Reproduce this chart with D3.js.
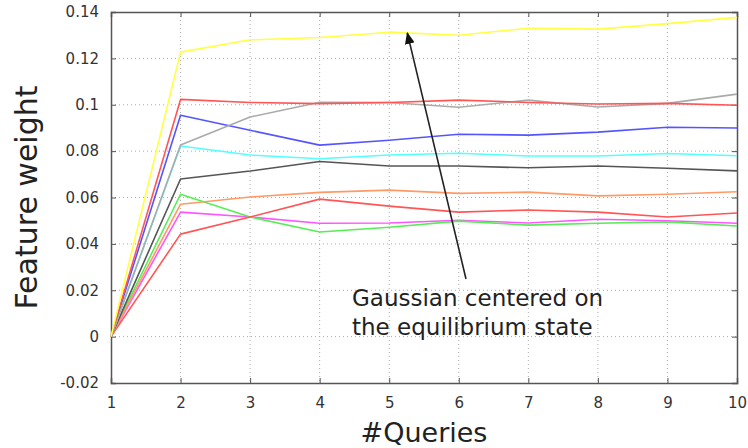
<!DOCTYPE html>
<html>
<head>
<meta charset="utf-8">
<script src="https://cdn.jsdelivr.net/npm/d3@7"></script>
<style>
  html, body { margin: 0; padding: 0; background: #fff; }
  svg { display: block; }
  text { font-family: "DejaVu Sans", sans-serif; }
</style>
</head>
<body>
<svg id="chart" width="748" height="448"></svg>
<script>
// Number of queries on the x axis
const queries = [1, 2, 3, 4, 5, 6, 7, 8, 9, 10];

// Feature weights per feature, one value per query count
const wYellow   = [0, 0.1227, 0.1280, 0.1290, 0.1313, 0.1300, 0.1330, 0.1326, 0.1350, 0.1377];
const wRed      = [0, 0.1023, 0.1010, 0.1005, 0.1010, 0.1020, 0.1010, 0.1003, 0.1006, 0.0998];
const wGray     = [0, 0.0826, 0.0947, 0.1011, 0.1010, 0.0989, 0.1020, 0.0990, 0.1006, 0.1046];
const wBlue     = [0, 0.0955, 0.0890, 0.0826, 0.0847, 0.0873, 0.0869, 0.0882, 0.0903, 0.0900];
const wCyan     = [0, 0.0822, 0.0783, 0.0767, 0.0783, 0.0791, 0.0779, 0.0779, 0.0790, 0.0780];
const wDark     = [0, 0.0680, 0.0714, 0.0755, 0.0736, 0.0736, 0.0728, 0.0736, 0.0726, 0.0715];
const wOrange   = [0, 0.0571, 0.0602, 0.0622, 0.0632, 0.0618, 0.0623, 0.0607, 0.0614, 0.0625];
const wRed2     = [0, 0.0442, 0.0516, 0.0593, 0.0563, 0.0537, 0.0546, 0.0537, 0.0516, 0.0533];
const wGreen    = [0, 0.0614, 0.0516, 0.0451, 0.0472, 0.0498, 0.0481, 0.0489, 0.0495, 0.0477];
const wMagenta  = [0, 0.0537, 0.0516, 0.0489, 0.0490, 0.0502, 0.0490, 0.0506, 0.0500, 0.0489];

const seriesValues = [wMagenta, wGreen, wRed2, wOrange, wDark, wCyan, wBlue, wGray, wRed, wYellow];
const seriesColors = ["#ff55ff", "#55ee55", "#ff5555", "#ff9966", "#555555", "#55ffff", "#5555ff", "#aaaaaa", "#ff5555", "#ffff44"];

const yTicks = [-0.02, 0, 0.02, 0.04, 0.06, 0.08, 0.1, 0.12, 0.14];
const yTickLabels = ["-0.02", "0", "0.02", "0.04", "0.06", "0.08", "0.1", "0.12", "0.14"];
const xTickLabels = ["1", "2", "3", "4", "5", "6", "7", "8", "9", "10"];

const svg = d3.select("#chart");
const plotL = 111, plotR = 737, plotT = 12, plotB = 383;

const x = d3.scaleLinear().domain([1, 10]).range([plotL, plotR]);
const y = d3.scaleLinear().domain([-0.02, 0.14]).range([plotB, plotT]);

// dotted grid
const grid = svg.append("g");
grid.selectAll("line.gx").data(queries.slice(1, -1)).join("line")
  .attr("x1", d => x(d)).attr("x2", d => x(d))
  .attr("y1", plotT).attr("y2", plotB)
  .attr("stroke", "#aaa").attr("stroke-width", 1).attr("stroke-dasharray", "1,3");
grid.selectAll("line.gy").data(yTicks.slice(1, -1)).join("line")
  .attr("x1", plotL).attr("x2", plotR)
  .attr("y1", d => y(d)).attr("y2", d => y(d))
  .attr("stroke", "#aaa").attr("stroke-width", 1).attr("stroke-dasharray", "1,3");

// axes with inward ticks on all four sides
const tickLen = 5;
const axB = svg.append("g").attr("transform", `translate(0,${plotB})`)
  .call(d3.axisBottom(x).tickValues(queries).tickFormat((d, i) => xTickLabels[i]).tickSize(-tickLen).tickPadding(14));
const axT = svg.append("g").attr("transform", `translate(0,${plotT})`)
  .call(d3.axisTop(x).tickValues(queries).tickFormat("").tickSize(-tickLen));
const axL = svg.append("g").attr("transform", `translate(${plotL},0)`)
  .call(d3.axisLeft(y).tickValues(yTicks).tickFormat((d, i) => yTickLabels[i]).tickSize(-tickLen).tickPadding(12));
const axR = svg.append("g").attr("transform", `translate(${plotR},0)`)
  .call(d3.axisRight(y).tickValues(yTicks).tickFormat("").tickSize(-tickLen));
[axB, axT, axL, axR].forEach(a => {
  a.select(".domain").attr("stroke", "#555").attr("stroke-width", 1.5);
  a.selectAll(".tick line").attr("stroke", "#555");
  a.selectAll("text").attr("fill", "#333").style("font-size", "15px").style("font-family", "'DejaVu Sans', sans-serif");
});

// series lines
const line = d3.line().x((d, i) => x(queries[i])).y(d => y(d));
svg.append("g").selectAll("path").data(seriesValues).join("path")
  .attr("d", d => line(d))
  .attr("fill", "none")
  .attr("stroke", (d, i) => seriesColors[i])
  .attr("stroke-width", 1.6)
  .attr("stroke-linejoin", "round");

// annotation with arrow pointing at the top curve
svg.append("defs").append("marker")
  .attr("id", "head").attr("viewBox", "0 0 12 10")
  .attr("refX", 11).attr("refY", 5)
  .attr("markerWidth", 12).attr("markerHeight", 10)
  .attr("markerUnits", "userSpaceOnUse")
  .attr("orient", "auto")
  .append("path").attr("d", "M0,0 L12,5 L0,10 Z").attr("fill", "#111");

svg.append("line")
  .attr("x1", 466).attr("y1", 279)
  .attr("x2", x(5.26)).attr("y2", y(0.1310))
  .attr("stroke", "#222").attr("stroke-width", 1.6)
  .attr("marker-end", "url(#head)");

const note = svg.append("text").attr("fill", "#222").style("font-size", "23px");
note.append("tspan").attr("x", 352).attr("y", 306).text("Gaussian centered on");
note.append("tspan").attr("x", 352).attr("y", 335).text("the equilibrium state");

// axis titles
svg.append("text")
  .attr("transform", `translate(37,${(plotT + plotB) / 2}) rotate(-90)`)
  .attr("text-anchor", "middle")
  .attr("fill", "#222")
  .style("font-size", "30px")
  .text("Feature weight");

svg.append("text")
  .attr("x", (plotL + plotR) / 2)
  .attr("y", 442)
  .attr("text-anchor", "middle")
  .attr("fill", "#222")
  .style("font-size", "27px")
  .text("#Queries");
</script>
</body>
</html>
